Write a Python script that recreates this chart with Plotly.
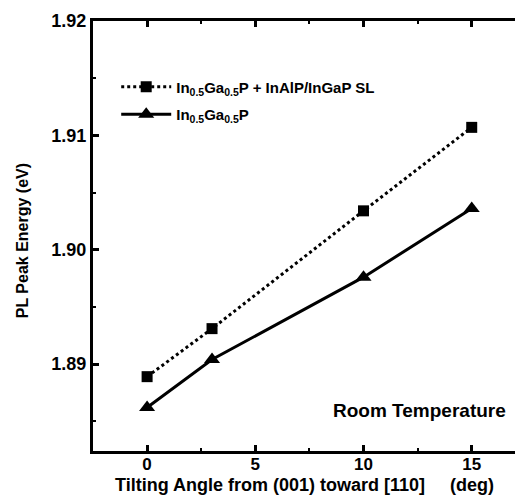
import plotly.graph_objects as go

angles = [0, 3, 10, 15]
sl_energy = [1.8889, 1.8931, 1.9034, 1.9107]
bulk_energy = [1.8862, 1.8904, 1.8976, 1.9036]

sl_name = "In<sub>0.5</sub>Ga<sub>0.5</sub>P + InAlP/InGaP SL"
bulk_name = "In<sub>0.5</sub>Ga<sub>0.5</sub>P"
x_title = "Tilting Angle from (001) toward [110]\u00a0\u00a0\u00a0\u00a0\u00a0(deg)"
y_title = "PL Peak Energy (eV)"

FONT = "Liberation Sans, Arial, sans-serif"

fig = go.Figure()
fig.add_trace(go.Scatter(
    x=angles, y=sl_energy, name=sl_name, mode="lines+markers", legendgroup="a",
    line=dict(color="black", width=3, dash="dot"),
    marker=dict(symbol="square", size=11, color="black"),
))
fig.add_trace(go.Scatter(
    x=angles, y=bulk_energy, name=bulk_name, mode="lines+markers", legendgroup="b",
    line=dict(color="black", width=3),
    marker=dict(symbol="triangle-up", size=14, color="black"),
))

fig.add_annotation(
    x=12.6, y=1.8859, xref="x", yref="y", text="Room Temperature",
    showarrow=False, font=dict(family=FONT, size=19, color="black", weight="bold"),
)
fig.add_annotation(
    x=0.5, y=-0.104, xref="paper", yref="paper", xanchor="center", yanchor="bottom",
    text=x_title, showarrow=False, borderpad=0,
    font=dict(family=FONT, size=18, color="black", weight="bold"),
)
fig.add_annotation(
    x=-0.168, y=0.488, xref="paper", yref="paper", xanchor="center", yanchor="middle",
    text=y_title, textangle=-90, showarrow=False, borderpad=0,
    font=dict(family=FONT, size=16, color="black", weight="bold"),
)

fig.update_layout(
    width=523, height=496,
    margin=dict(l=93, r=8, t=21, b=45),
    paper_bgcolor="white", plot_bgcolor="white",
    font=dict(family=FONT, color="black", weight="bold"),
    showlegend=True,
    legend=dict(
        x=0.055, y=0.885, xanchor="left", yanchor="top",
        bgcolor="rgba(0,0,0,0)", itemwidth=50,
        font=dict(family=FONT, size=15, color="black", weight="bold"),
        tracegroupgap=5,
    ),
    xaxis=dict(
        range=[-2.5, 17], tickvals=[0, 5, 10, 15], ticktext=["0", "5", "10", "15"],
        showgrid=False, zeroline=False, automargin=False,
        showline=True, linecolor="black", linewidth=3, mirror="ticks",
        ticks="inside", ticklen=6, tickwidth=3, tickcolor="black",
        minor=dict(ticks="inside", dtick=2.5, tick0=0, ticklen=3, tickwidth=2, tickcolor="black"),
        tickfont=dict(family=FONT, size=17, weight="bold"),
        ticklabelstandoff=-4,
    ),
    yaxis=dict(
        range=[1.8824, 1.92], tickvals=[1.89, 1.90, 1.91, 1.92],
        ticktext=["1.89", "1.90", "1.91", "1.92"],
        showgrid=False, zeroline=False, automargin=False,
        showline=True, linecolor="black", linewidth=3,
        ticks="inside", ticklen=6, tickwidth=3, tickcolor="black",
        minor=dict(ticks="inside", dtick=0.005, tick0=1.885, ticklen=3, tickwidth=2, tickcolor="black"),
        tickfont=dict(family=FONT, size=18, weight="bold"),
    ),
)

fig.write_html("out.html")
